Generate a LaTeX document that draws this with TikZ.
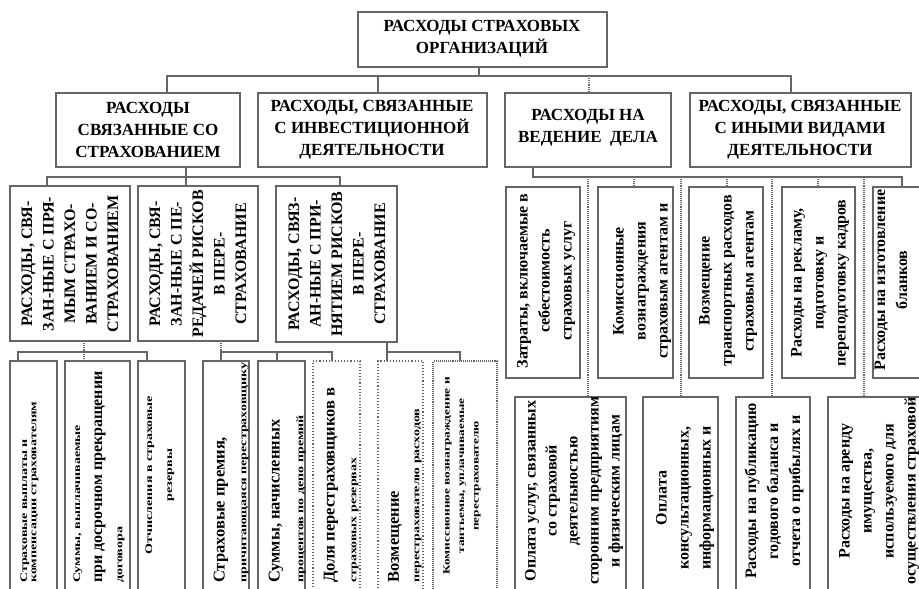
\documentclass[tikz,border=0pt]{standalone}
\usepackage{fontspec}
\setmainfont{Liberation Serif}
\newfontfamily\wideB[FakeStretch=1.4]{Liberation Serif}
\tikzset{
  ln/.style={draw=black!60, line width=1.1pt},
  bx/.style={draw=black!60, line width=1.1pt, inner sep=0pt, outer sep=0pt, fill=white},
  hd/.style={align=center, inner sep=0pt, font=\bfseries\fontsize{17}{22}\selectfont},
  vh/.style={rotate=90, align=center, inner sep=0pt, font=\bfseries\fontsize{16}{21.5}\selectfont},
  vt/.style={rotate=90, align=center, inner sep=0pt, font=\bfseries\fontsize{16}{22}\selectfont},
  lb/.style={rotate=90, anchor=west, inner sep=0pt, font=\bfseries\fontsize{16.5}{18}\selectfont},
  lw/.style={rotate=90, anchor=west, inner sep=0pt, font=\wideB\bfseries\fontsize{10}{12}\selectfont},
}
\newcommand{\mybox}[6][]{\node[bx,#1,anchor=north west,minimum width={#5pt-#3pt},minimum height={#6pt-#4pt}] (#2) at (#3,#4) {};}
\begin{document}
\begin{tikzpicture}[x=1pt,y=-1pt]
\useasboundingbox (0,0) rectangle (919,589);
\fill[white] (0,0) rectangle (919,589);
\clip (0,0) rectangle (919,589);

% ---------- boxes ----------
\mybox{top}{358}{12}{607}{67}
\mybox{l2a}{56}{93}{240}{167}
\mybox{l2b}{258}{93}{487}{167}
\mybox{l2c}{505}{93}{671}{167}
\mybox{l2d}{690}{93}{911}{167}

\mybox{l3a}{10}{186}{130}{341}
\mybox{l3b}{138}{186}{258}{341}
\mybox{l3c}{276}{186}{397}{342}

\mybox{l4a}{10}{361}{57}{600}
\mybox{l4b}{65}{361}{130}{600}
\mybox{l4c}{138}{361}{185}{600}
\mybox{l4d}{203}{361}{249}{600}
\mybox{l4e}{258}{361}{305}{600}
\mybox[dotted]{l4f}{313}{361}{360}{600}
\mybox[dotted]{l4g}{378}{361}{423}{600}
\mybox[densely dotted]{l4h}{433}{361}{497}{600}

\mybox{r1}{506}{187}{580}{378}
\mybox{r2}{598}{187}{673}{378}
\mybox{r3}{689}{187}{763}{378}
\mybox{r4}{782}{187}{855}{378}
\mybox{r5}{873}{187}{940}{378}

\mybox{b1}{515}{397}{626}{600}
\mybox{b2}{643}{397}{718}{600}
\mybox{b3}{736}{397}{810}{600}
\mybox{b4}{828}{397}{935}{600}

% ---------- connectors ----------
\coordinate (k0) at (479,76);
\coordinate (k1) at (167,76);
\coordinate (k2) at (378,76);
\coordinate (k3) at (589,76);
\coordinate (k4) at (791,76);
\draw[ln] (top.south -| k0) -- (k0);
\draw[ln] (k1 |- l2a.north) -- (k1) -- (k4) -- (k4 |- l2d.north);
\draw[ln] (k2) -- (k2 |- l2b.north);
\draw[ln,densely dotted] (k3) -- (k3 |- l2c.north);

\coordinate (m0) at (186,177);
\coordinate (m1) at (47,177);
\coordinate (m3) at (340,177);
\draw[ln] (m0 |- l2a.south) -- (m0);
\draw[ln] (m1 |- l3a.north) -- (m1) -- (m3) -- (m3 |- l3c.north);
\draw[ln] (m0) -- (m0 |- l3b.north);

\coordinate (p0) at (84,352);
\coordinate (p1) at (18,352);
\coordinate (p3) at (147,352);
\draw[ln,densely dotted] (p0 |- l3a.south) -- (p0);
\draw[ln] (p1 |- l4a.north) -- (p1) -- (p3) -- (p3 |- l4c.north);
\draw[ln,densely dotted] (p0) -- (p0 |- l4b.north);

\coordinate (q0) at (221,352);
\coordinate (q1) at (277,352);
\coordinate (q2) at (332,352);
\draw[ln,densely dotted] (q0 |- l3b.south) -- (q0);
\draw[ln] (q0 |- l4d.north) -- (q0) -- (q2) -- (q2 |- l4f.north);
\draw[ln] (q1) -- (q1 |- l4e.north);

\coordinate (w0) at (387,352);
\coordinate (w1) at (460,352);
\draw[ln] (w0 |- l3c.south) -- (w0) -- (w1) -- (w1 |- l4h.north);
\draw[ln] (w0) -- (w0 |- l4g.north);

\coordinate (s0) at (533,177);
\coordinate (s5) at (902,177);
\draw[ln] (s0 |- l2c.south) -- (s0) -- (s5) -- (s5 |- r5.north);
\coordinate (t2) at (634,177);
\coordinate (t3) at (727,177);
\coordinate (t4) at (818,177);
\draw[ln,densely dotted] (t2) -- (t2 |- r2.north);
\draw[ln,densely dotted] (t3) -- (t3 |- r3.north);
\draw[ln,densely dotted] (t4) -- (t4 |- r4.north);
\coordinate (u1) at (588,177);
\coordinate (u2) at (681,177);
\coordinate (u3) at (772,177);
\coordinate (u4) at (864,177);
\draw[ln,densely dotted] (u1) -- (u1 |- b1.north);
\draw[ln,densely dotted] (u2) -- (u2 |- b2.north);
\draw[ln,densely dotted] (u3) -- (u3 |- b3.north);
\draw[ln,densely dotted] (u4) -- (u4 |- b4.north);

% ---------- texts: headers ----------
\node[hd] (ttop) at (482,39) {РАСХОДЫ СТРАХОВЫХ\\ОРГАНИЗАЦИЙ};
\node[hd] (ta) at (148,130) {РАСХОДЫ\\СВЯЗАННЫЕ СО\\СТРАХОВАНИЕМ};
\node[hd] (tb) at (372,130) {РАСХОДЫ, СВЯЗАННЫЕ\\С ИНВЕСТИЦИОННОЙ\\ДЕЯТЕЛЬНОСТИ};
\node[hd] (tc) at (588,128) {РАСХОДЫ НА\\ВЕДЕНИЕ~~ДЕЛА};
\node[hd] (td) at (800,130) {РАСХОДЫ, СВЯЗАННЫЕ\\С ИНЫМИ ВИДАМИ\\ДЕЯТЕЛЬНОСТИ};

\node[vh] (t3a) at (70,264) {РАСХОДЫ, СВЯ-\\ЗАН-НЫЕ С ПРЯ-\\МЫМ СТРАХО-\\ВАНИЕМ И СО-\\СТРАХОВАНИЕМ};
\node[vh] (t3b) at (198,264) {РАСХОДЫ, СВЯ-\\ЗАН-НЫЕ С ПЕ-\\РЕДАЧЕЙ РИСКОВ\\В ПЕРЕ-\\СТРАХОВАНИЕ};
\node[vh] (t3c) at (337,264) {РАСХОДЫ, СВЯЗ-\\АН-НЫЕ С ПРИ-\\НЯТИЕМ РИСКОВ\\В ПЕРЕ-\\СТРАХОВАНИЕ};

% ---------- right level 3 ----------
\node[vt] (tr1) at (546,281) {Затраты, включаемые в\\себестоимость\\страховых услуг};
\node[vt] (tr2) at (642,281) {Комиссионные\\вознаграждения\\страховым агентам и};
\node[vt] (tr3) at (728,281) {Возмещение\\транспортных расходов\\страховым агентам};
\node[vt] (tr4) at (820,283) {Расходы на рекламу,\\подготовку и\\переподготовку кадров};
\begin{scope}
\clip (r5.north west) rectangle (r5.south east);
\node[vt] (tr5) at (891,280) {Расходы на изготовление\\бланков};
\end{scope}

% ---------- bottom right ----------
\node[vt,font=\bfseries\fontsize{16}{21}\selectfont] (tb1) at (574,491) {Оплата услуг, связанных\\со страховой\\деятельностью\\сторонним предприятиям\\и физическим лицам};
\node[vt] (tb2) at (685,498) {Оплата\\консультационных,\\информационных и};
\node[vt] (tb3) at (774,491) {Расходы на публикацию\\годового баланса и\\отчета о прибылях и};
\node[vt] (tb4) at (879,491) {Расходы на аренду\\имущества,\\используемого для\\осуществления страховой};

% ---------- level 4 left ----------
\begin{scope}
\clip (l4a.north west) rectangle (l4a.south east);
\node[lw] (la1) at (25,583) {Страховые выплаты и};
\node[lw] (la2) at (35,583) {компенсации страхователям};
\end{scope}
\begin{scope}
\clip (l4b.north west) rectangle (l4b.south east);
\node[lw] (lb1) at (78,583) {Суммы, выплачиваемые};
\node[lb,font=\bfseries\fontsize{16}{18}\selectfont] (lb2) at (100,583) {при досрочном прекращении};
\node[lw] (lb3) at (121,583) {договора};
\end{scope}
\begin{scope}
\clip (l4c.north west) rectangle (l4c.south east);
\node[lw,anchor=center,align=center,font=\wideB\bfseries\fontsize{10}{20}\selectfont] (lc) at (160,475) {Отчисления в страховые\\резервы};
\end{scope}
\begin{scope}
\clip (l4d.north west) rectangle (l4d.south east);
\node[lb] (ld1) at (221,583) {Страховые премия,};
\node[lw] (ld2) at (245,583) {причитающаяся перестраховщику};
\end{scope}
\begin{scope}
\clip (l4e.north west) rectangle (l4e.south east);
\node[lb] (le1) at (276,583) {Суммы, начисленных};
\node[lw] (le2) at (301,583) {процентов по депо премий};
\end{scope}
\begin{scope}
\clip (l4f.north west) rectangle (l4f.south east);
\node[lb] (lf1) at (331,583) {Доля перестраховщиков в};
\node[lw] (lf2) at (355,583) {страховых резервах};
\end{scope}
\begin{scope}
\clip (l4g.north west) rectangle (l4g.south east);
\node[lb] (lg1) at (395,583) {Возмещение};
\node[lw] (lg2) at (418,583) {перестрахователю расходов};
\end{scope}
\begin{scope}
\clip (l4h.north west) rectangle (l4h.south east);
\node[lw,anchor=center,align=center,font=\wideB\bfseries\fontsize{9.5}{14.5}\selectfont] (lh) at (462,476) {Комиссионное вознаграждение и\\тантьемы, уплачиваемые\\перестрахователю};
\end{scope}
\end{tikzpicture}
\end{document}
